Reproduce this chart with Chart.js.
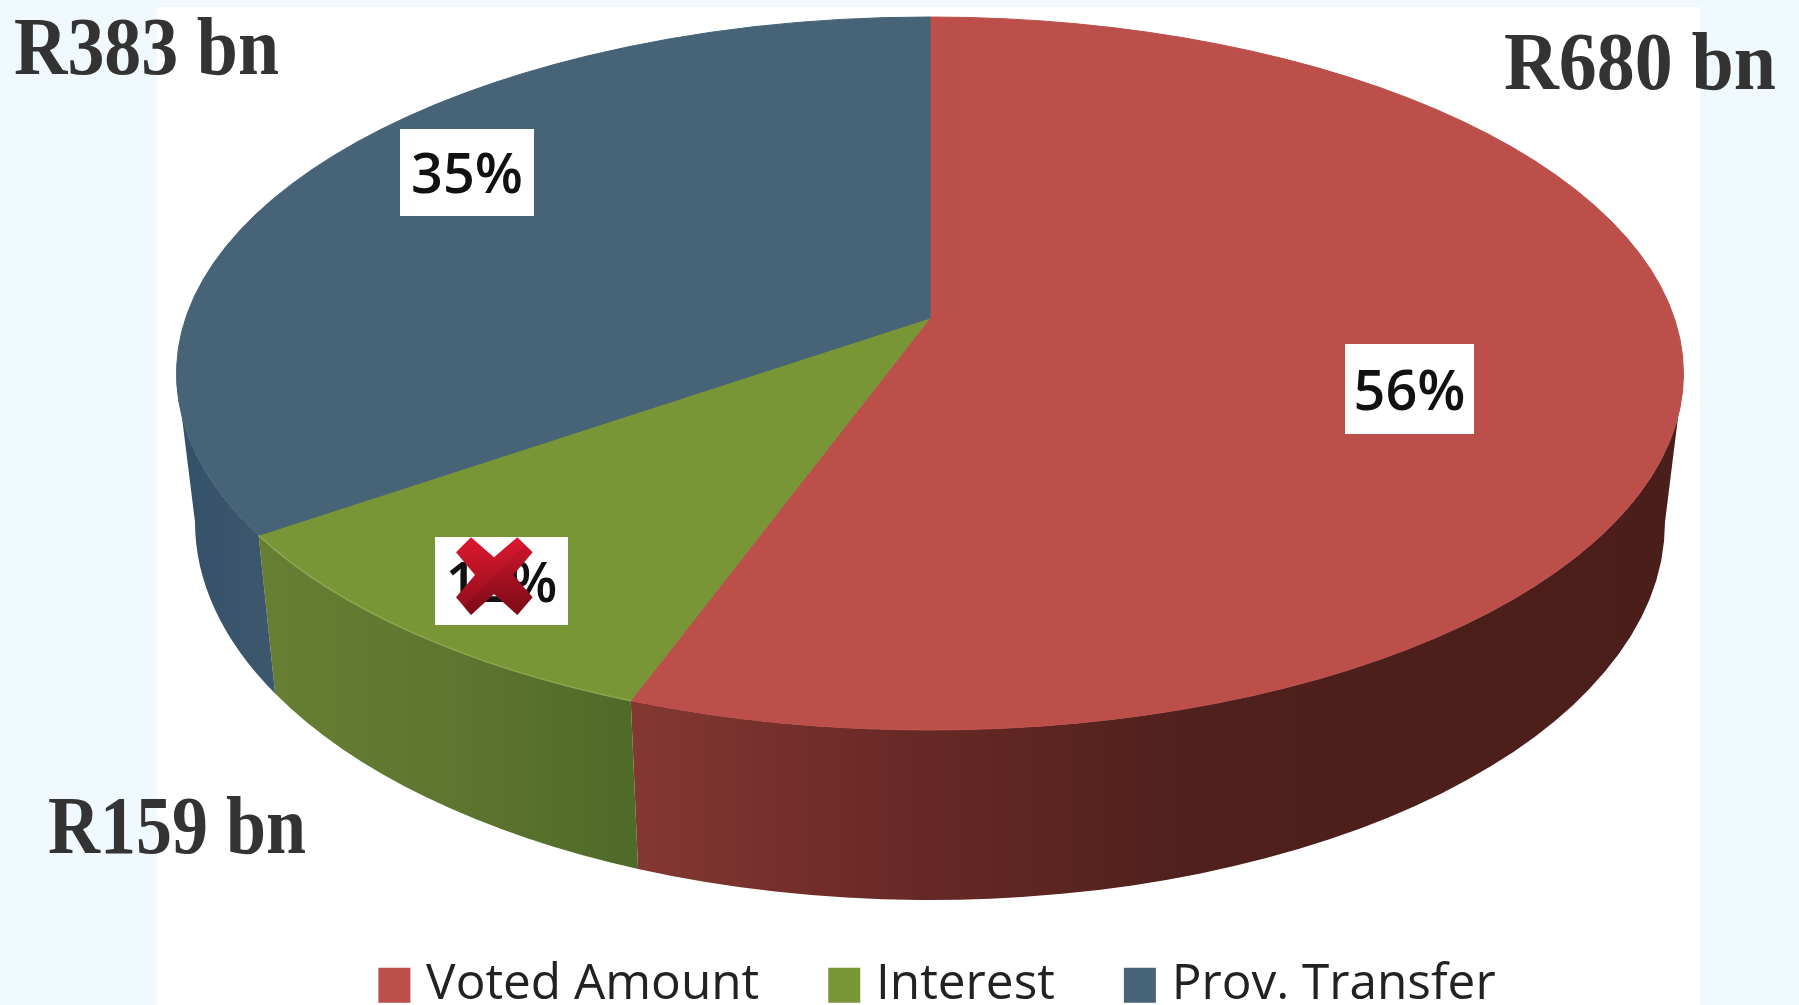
<!DOCTYPE html>
<html>
<head>
<meta charset="utf-8">
<title>Budget split</title>
<script src="https://cdn.jsdelivr.net/npm/chart.js@4/dist/chart.umd.min.js"></script>
<style>
    html, body { margin: 0; padding: 0; background: #f0f9fe; overflow: hidden; }
    canvas { display: block; }
</style>
</head>
<body>
<canvas id="pie-chart" width="1799" height="1005"></canvas>
<script>
const categories = ["Voted Amount", "Interest", "Prov. Transfer"];
// slice shares as measured on the rim of the pie, the printed labels don't add up to 100
const sliceShares = [56.5, 11, 32.5];
const percentLabels = ["56%", "12%", "35%"];
const amountLabels = ["R680 bn", "R159 bn", "R383 bn"];
const faceColors = ["#bc4f4a", "#799637", "#466377"];

// Look of the fake 3D pie
const topRim = { x: 930, y: 373.5, rx: 753.5, ry: 356.5 };
const bottomRim = { x: 930, y: 522, rx: 735, ry: 378 };
const apex = { x: 930, y: 318 };
const wallStops = [
    [[630, "#843832"], [880, "#6b2a27"], [1200, "#4f201c"], [1683, "#4a1e1a"]],
    [[259, "#677f33"], [450, "#5f7530"], [630, "#4f6b28"]],
    [[176, "#34506a"], [273, "#3d586d"]]
];
const labelBoxes = [
    { x: 1345, y: 344, w: 129, h: 90 },
    { x: 435, y: 537, w: 133, h: 88 },
    { x: 400, y: 129, w: 134, h: 87 }
];
const amountPositions = [
    { x: 1504, y: 89, w: 272 },
    { x: 48, y: 853, w: 258 },
    { x: 14, y: 74, w: 265 }
];

// Side wall of one slice, only the part facing the viewer
function drawWall(ctx, arc, stops) {
    const from = Math.max(arc.startAngle, 0);
    const to = Math.min(arc.endAngle, Math.PI);
    if (to <= from) return;
    const first = stops[0][0];
    const last = stops[stops.length - 1][0];
    const grad = ctx.createLinearGradient(first, 0, last, 0);
    stops.forEach(s => {
        grad.addColorStop((s[0] - first) / (last - first), s[1]);
    });
    ctx.beginPath();
    ctx.ellipse(topRim.x, topRim.y, topRim.rx, topRim.ry, 0, from, to);
    ctx.ellipse(bottomRim.x, bottomRim.y, bottomRim.rx, bottomRim.ry, 0, to, from, true);
    ctx.closePath();
    ctx.fillStyle = grad;
    ctx.fill();
}

function drawFace(ctx, arc, color) {
    ctx.beginPath();
    ctx.moveTo(apex.x, apex.y);
    ctx.ellipse(topRim.x, topRim.y, topRim.rx, topRim.ry, 0, arc.startAngle, arc.endAngle);
    ctx.closePath();
    ctx.fillStyle = color;
    ctx.fill();
    ctx.strokeStyle = color;
    ctx.lineWidth = 1;
    ctx.stroke();
}

// Red cross that sits on top of the interest label
function drawCross(ctx) {
    const pts = [[153, 52], [222, 112], [292, 52], [338, 97], [280, 165], [338, 232],
                 [292, 285], [222, 222], [153, 285], [108, 232], [165, 165], [108, 97]];
    ctx.save();
    ctx.beginPath();
    pts.forEach((p, i) => {
        const x = 420 + p[0] / 3;
        const y = 520 + p[1] / 3;
        if (i === 0) ctx.moveTo(x, y); else ctx.lineTo(x, y);
    });
    ctx.closePath();
    const grad = ctx.createLinearGradient(0, 537, 0, 615);
    grad.addColorStop(0, "#de1830");
    grad.addColorStop(1, "#8c0d1b");
    ctx.fillStyle = grad;
    ctx.fill();
    ctx.clip();
    const dark = ctx.createLinearGradient(0, 560, 0, 615);
    dark.addColorStop(0, "rgba(90,5,15,0.1)");
    dark.addColorStop(1, "rgba(90,5,15,0.3)");
    ctx.beginPath();
    ctx.moveTo(456, 615);
    ctx.lineTo(533, 537);
    ctx.lineTo(560, 620);
    ctx.closePath();
    ctx.fillStyle = dark;
    ctx.fill();
    ctx.restore();
}

const pie3d = {
    id: "pie3d",
    beforeDraw(chart) {
        const ctx = chart.ctx;
        ctx.save();
        ctx.fillStyle = "#f0f9fe";
        ctx.fillRect(0, 0, chart.width, chart.height);
        ctx.fillStyle = "#ffffff";
        ctx.fillRect(157, 7, 1543, chart.height - 7);
        ctx.restore();
    },
    // the arcs keep their angles from the pie controller, only the shape is redrawn
    beforeDatasetDraw(chart, args) {
        const ctx = chart.ctx;
        const arcs = args.meta.data;
        ctx.save();
        arcs.forEach((arc, i) => drawWall(ctx, arc, wallStops[i]));
        arcs.forEach((arc, i) => drawFace(ctx, arc, faceColors[i]));
        // thin light edge along the green slice
        ctx.beginPath();
        ctx.ellipse(topRim.x, topRim.y, topRim.rx, topRim.ry, 0, arcs[1].startAngle, arcs[1].endAngle);
        ctx.strokeStyle = "#8ba650";
        ctx.lineWidth = 1.5;
        ctx.stroke();
        ctx.restore();
        return false;
    },
    afterDatasetsDraw(chart) {
        const ctx = chart.ctx;
        ctx.save();
        percentLabels.forEach((label, i) => {
            const box = labelBoxes[i];
            ctx.fillStyle = "#ffffff";
            ctx.fillRect(box.x, box.y, box.w, box.h);
            ctx.fillStyle = "#111111";
            ctx.font = "600 56px 'Open Sans'";
            ctx.textAlign = "center";
            ctx.textBaseline = "middle";
            ctx.fillText(label, box.x + box.w / 2, box.y + box.h / 2 + 5, 112);
        });
        drawCross(ctx);
        amountLabels.forEach((label, i) => {
            const pos = amountPositions[i];
            ctx.fillStyle = "#333333";
            ctx.font = "bold 82px 'Liberation Serif'";
            ctx.textAlign = "left";
            ctx.textBaseline = "alphabetic";
            ctx.fillText(label, pos.x, pos.y, pos.w);
        });
        ctx.restore();
    }
};

// The thick same-colour border keeps the swatch big while the text stays close to it
function legendItems(chart) {
    return Chart.overrides.pie.plugins.legend.labels.generateLabels(chart).map(item => {
        item.strokeStyle = item.fillStyle;
        item.lineWidth = 18;
        return item;
    });
}

new Chart(document.getElementById("pie-chart"), {
    type: "pie",
    data: {
        labels: categories,
        datasets: [{
            data: sliceShares,
            backgroundColor: faceColors,
            borderWidth: 0
        }]
    },
    options: {
        responsive: false,
        animation: false,
        layout: { padding: { left: 84, bottom: -15 } },
        plugins: {
            tooltip: { enabled: false },
            legend: {
                position: "bottom",
                labels: {
                    boxWidth: 14,
                    boxHeight: 17,
                    padding: 78,
                    color: "#222222",
                    font: { family: "'Open Sans'", size: 49.5 },
                    generateLabels: legendItems
                }
            }
        }
    },
    plugins: [pie3d]
});
</script>
</body>
</html>
